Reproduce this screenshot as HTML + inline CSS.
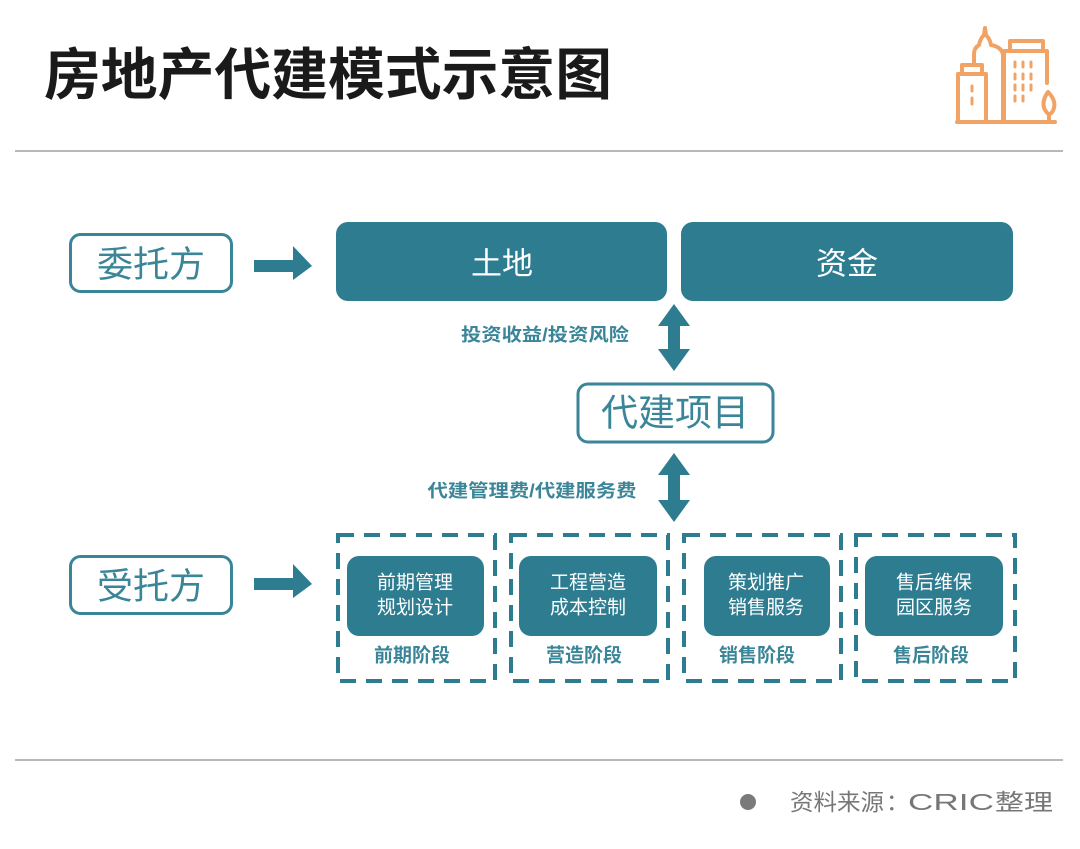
<!DOCTYPE html>
<html><head><meta charset="utf-8"><style>
html,body{margin:0;padding:0;background:#fff;}
svg{display:block;}
</style></head><body>
<svg width="1080" height="849" viewBox="0 0 1080 849" xmlns="http://www.w3.org/2000/svg">
<rect width="1080" height="849" fill="#fff"/>
<!-- Title -->
<text x="44" y="75" dominant-baseline="central" font-family="'Liberation Sans','Noto Sans CJK SC',sans-serif" font-weight="bold" font-size="56" fill="#1a1a1a" textLength="568" lengthAdjust="spacingAndGlyphs">房地产代建模式示意图</text>
<!-- Icon -->
<g fill="none" stroke="#f0a365" stroke-width="4" stroke-linecap="round" stroke-linejoin="round">
<line x1="957" y1="122" x2="1055" y2="122"/>
<path d="M958,122 V74 H986 V122"/>
<path d="M962,74 V65 H982 V74"/>
<path d="M974,65 V54 Q974,48 979,45 Q980,39 984,35 L985,28 L986,35 Q990,39 991,45 Q1002,47 1003,55 V122"/>
<path d="M1004,122 V51 H1047 V83"/>
<path d="M1010,51 V41 H1043 V51"/>
<path d="M1048,92 Q1042,100 1044,108 Q1047,114 1049,114 Q1052,114 1054,108 Q1056,100 1048,92 Z M1049,114 V122"/>
</g>
<g stroke="#f0a365" stroke-width="3" stroke-linecap="round">
<line x1="972" y1="86" x2="972" y2="91"/><line x1="972" y1="98" x2="972" y2="104"/>
<line x1="1015" y1="62" x2="1015" y2="67"/><line x1="1023" y1="62" x2="1023" y2="67"/><line x1="1031" y1="62" x2="1031" y2="67"/>
<line x1="1015" y1="74" x2="1015" y2="79"/><line x1="1023" y1="74" x2="1023" y2="79"/><line x1="1031" y1="74" x2="1031" y2="79"/>
<line x1="1015" y1="85" x2="1015" y2="90"/><line x1="1023" y1="85" x2="1023" y2="90"/><line x1="1031" y1="85" x2="1031" y2="90"/>
<line x1="1015" y1="96" x2="1015" y2="101"/><line x1="1023" y1="96" x2="1023" y2="101"/>
</g>
<!-- Divider lines -->
<rect x="15" y="150" width="1048" height="2" fill="#b8b8b8"/>
<rect x="15" y="759" width="1048" height="2" fill="#b8b8b8"/>

<g font-family="'Liberation Sans','Noto Sans CJK SC',sans-serif" text-anchor="middle" dominant-baseline="central">
<!-- 委托方 -->
<rect x="70.5" y="234.5" width="161" height="57" rx="10" fill="#fff" stroke="#3a8598" stroke-width="3"/>
<text x="151" y="264" font-size="36" fill="#3a8598">委托方</text>
<path d="M254,260 H293 V246 L312,266 L293,280 V272 H254 Z" fill="#2d7c90"/>
<!-- 土地 / 资金 -->
<rect x="336" y="222" width="331" height="79" rx="12" fill="#2d7c90"/>
<text x="502" y="264" font-size="31" fill="#fff">土地</text>
<rect x="681" y="222" width="332" height="79" rx="12" fill="#2d7c90"/>
<text x="847" y="264" font-size="31" fill="#fff">资金</text>
<!-- arrows vertical -->
<path d="M674,304 L690,326 H680 V349 H690 L674,371 L658,349 H668 V326 H658 Z" fill="#2d7c90"/>
<text x="545" y="335" font-size="18" font-weight="bold" fill="#3a8598" textLength="168" lengthAdjust="spacingAndGlyphs">投资收益/投资风险</text>
<!-- 代建项目 -->
<rect x="578" y="384" width="195" height="58" rx="10" fill="#fff" stroke="#3a8598" stroke-width="3"/>
<text x="675" y="413" font-size="37" fill="#3a8598">代建项目</text>
<path d="M674,453 L690,475 H680 V500 H690 L674,522 L658,500 H668 V475 H658 Z" fill="#2d7c90"/>
<text x="532" y="491" font-size="18" font-weight="bold" fill="#3a8598" textLength="209" lengthAdjust="spacingAndGlyphs">代建管理费/代建服务费</text>
<!-- 受托方 -->
<rect x="70.5" y="556.5" width="161" height="57" rx="10" fill="#fff" stroke="#3a8598" stroke-width="3"/>
<text x="151" y="586" font-size="36" fill="#3a8598">受托方</text>
<path d="M254,578 H293 V564 L312,584 L293,598 V590 H254 Z" fill="#2d7c90"/>
<!-- dashed stages -->
<g fill="none" stroke="#2d7c90" stroke-width="4" stroke-dasharray="16 10">
<rect x="338" y="535" width="157" height="146"/>
<rect x="511" y="535" width="157" height="146"/>
<rect x="684" y="535" width="157" height="146"/>
<rect x="856" y="535" width="159" height="146"/>
</g>
<rect x="347" y="556" width="137" height="80" rx="12" fill="#2d7c90"/>
<rect x="519" y="556" width="138" height="80" rx="12" fill="#2d7c90"/>
<rect x="704" y="556" width="126" height="80" rx="12" fill="#2d7c90"/>
<rect x="865" y="556" width="138" height="80" rx="12" fill="#2d7c90"/>
<g font-size="19" fill="#fff">
<text x="415" y="583">前期管理</text><text x="415" y="608">规划设计</text>
<text x="588" y="583">工程营造</text><text x="588" y="608">成本控制</text>
<text x="766" y="583">策划推广</text><text x="766" y="608">销售服务</text>
<text x="934" y="583">售后维保</text><text x="934" y="608">园区服务</text>
</g>
<g font-size="19" font-weight="bold" fill="#3a8598">
<text x="412" y="656">前期阶段</text>
<text x="584" y="656">营造阶段</text>
<text x="757" y="656">销售阶段</text>
<text x="931" y="656">售后阶段</text>
</g>
</g>
<!-- Footer -->
<circle cx="748" cy="802" r="8" fill="#7a7a7a"/>
<g font-family="'Liberation Sans','Noto Sans CJK SC',sans-serif" font-size="23" fill="#777" dominant-baseline="central">
<text x="790" y="802" textLength="94" lengthAdjust="spacingAndGlyphs">资料来源</text>
<text x="886" y="802">：</text>
<text x="908" y="802" textLength="86" lengthAdjust="spacingAndGlyphs">CRIC</text>
<text x="995" y="802" textLength="58" lengthAdjust="spacingAndGlyphs">整理</text>
</g>
</svg>
</body></html>
